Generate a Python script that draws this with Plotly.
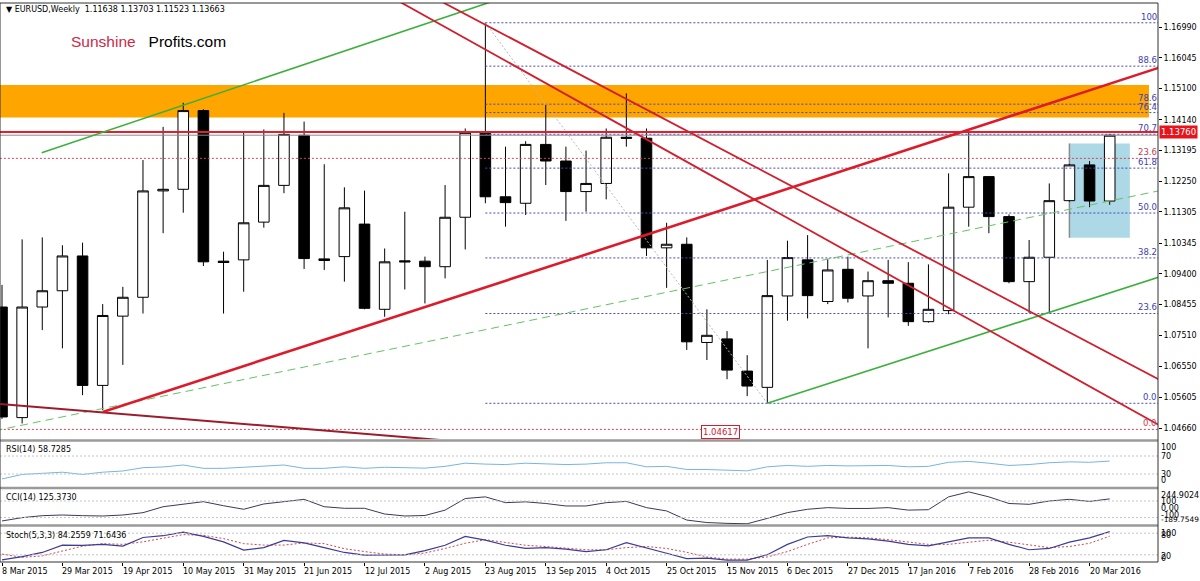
import plotly.graph_objects as go

# ---------------- data (weekly EURUSD) ----------------
OPEN = [1.0838, 1.0498, 1.0838, 1.0888, 1.0995, 1.0597, 1.0810, 1.0868, 1.1195, 1.1200,
        1.1442, 1.0979, 1.0983, 1.1099, 1.1212, 1.1366, 1.0986, 1.0993, 1.1093, 1.0831,
        1.0980, 1.0979, 1.0962, 1.1114, 1.1374, 1.1177, 1.1157, 1.1338, 1.1287, 1.1193,
        1.1218, 1.1360, 1.1357, 1.1020, 1.1031, 1.0729, 1.0740, 1.0641, 1.0591, 1.0872,
        1.0983, 1.0855, 1.0954, 1.0872, 1.0919, 1.0911, 1.0793, 1.0827, 1.1145, 1.1239,
        1.1116, 1.0916, 1.0991, 1.1165, 1.1275, 1.11638]
HIGH = [1.0906, 1.1046, 1.1052, 1.1028, 1.1036, 1.0847, 1.0900, 1.1290, 1.1392, 1.1466,
        1.1446, 1.1008, 1.1379, 1.1384, 1.1435, 1.1408, 1.1277, 1.1206, 1.1196, 1.1018,
        1.1131, 1.0993, 1.1213, 1.1387, 1.1712, 1.1331, 1.1348, 1.1459, 1.1331, 1.1319,
        1.1387, 1.1495, 1.1387, 1.1097, 1.1052, 1.0831, 1.0764, 1.0690, 1.0983, 1.1042,
        1.1059, 1.0985, 1.0993, 1.0947, 1.0983, 1.0976, 1.0969, 1.1249, 1.1377, 1.1241,
        1.1123, 1.1044, 1.1218, 1.1278, 1.1287, 1.13703]
LOW = [1.0494, 1.0480, 1.0767, 1.0711, 1.0567, 1.0521, 1.0660, 1.0818, 1.1065, 1.1128,
       1.0964, 1.0818, 1.0885, 1.1082, 1.1188, 1.0955, 1.0952, 1.0916, 1.0831, 1.0808,
       1.0892, 1.0849, 1.0926, 1.1015, 1.1157, 1.1085, 1.1121, 1.1213, 1.1103, 1.1131,
       1.1169, 1.1331, 1.0995, 1.0897, 1.0706, 1.0675, 1.0616, 1.0564, 1.0542, 1.0796,
       1.0803, 1.0847, 1.0852, 1.0711, 1.0806, 1.0780, 1.0790, 1.0816, 1.1085, 1.1065,
       1.0911, 1.0820, 1.0820, 1.1162, 1.1145, 1.11523]
CLOSE = [1.0500, 1.0838, 1.0888, 1.0995, 1.0597, 1.0812, 1.0868, 1.1195, 1.1200, 1.1442,
         1.0977, 1.0975, 1.1097, 1.1212, 1.1369, 1.0987, 1.0981, 1.1143, 1.0834, 1.0977,
         1.0977, 1.0962, 1.1114, 1.1374, 1.1177, 1.1159, 1.1338, 1.1287, 1.1193, 1.1218,
         1.1360, 1.1357, 1.1020, 1.1031, 1.0731, 1.0751, 1.0644, 1.0595, 1.0873, 1.0990,
         1.0873, 1.0952, 1.0865, 1.0919, 1.0911, 1.0793, 1.0831, 1.1145, 1.1239, 1.1116,
         1.0916, 1.0991, 1.1165, 1.1275, 1.1164, 1.13663]

RSI = [19, 29, 31.5, 34, 29, 34, 36.7, 44, 45.6, 50, 42.6, 42.6, 45, 47, 50, 42.6, 42.6, 46,
       42.6, 45, 44, 43, 47, 54, 52, 51, 54, 53, 51, 52, 55, 55, 46, 47, 40, 40, 38, 37,
       46, 49, 47, 49, 48, 49, 49, 46, 47, 56, 58, 54, 49, 51, 55, 57, 56, 58.7285]
CCI = [-141, -101, -77, -69, -77, -81, -69, -41, 31, 60, 92, 43, 0, 64, 92, 120, 31, 12,
       12, -57, -81, -75, -10, 130, 150, 80, 90, 70, 40, 40, 80, 95, 20, -20, -130, -160,
       -170, -175, -110, -40, 0, 20, 10, 10, 20, -10, -5, 150, 210, 150, 70, 60, 100, 120,
       95, 125.3730]
STOCH_K = [6, 15, 26.5, 47, 46, 49, 44, 68, 73, 83, 71, 56, 33, 40, 60, 53, 40, 26.5, 19,
           20, 20, 31.5, 46.5, 71, 60.6, 46.5, 37.6, 40, 36, 29, 34, 53.5, 40, 24.4, 9.4,
           11, 5, 5, 20, 49, 69.4, 73, 67, 64, 58, 49, 44.7, 55, 67, 67, 49, 34, 37.6, 55,
           67, 84.2559]
STOCH_D = [22, 13, 17, 31, 44, 51, 49, 56, 67, 76, 74, 65, 51, 47, 47, 53, 51, 37, 29, 22,
           20, 25, 37.6, 52, 62, 55, 46.5, 43, 37.6, 34, 34, 40, 43, 37.6, 27, 14, 8, 8, 14,
           29, 49, 67, 69, 67, 62, 55, 49, 49, 55, 60.6, 55, 46.5, 40, 43, 52, 71.6436]

WEEK_LABELS = ["8 Mar 2015", "29 Mar 2015", "19 Apr 2015", "10 May 2015", "31 May 2015",
               "21 Jun 2015", "12 Jul 2015", "2 Aug 2015", "23 Aug 2015", "13 Sep 2015",
               "4 Oct 2015", "25 Oct 2015", "15 Nov 2015", "6 Dec 2015", "27 Dec 2015",
               "17 Jan 2016", "7 Feb 2016", "28 Feb 2016", "20 Mar 2016"]
LABEL_STEP = 3
PRICE_TICKS = [1.04660, 1.05605, 1.06550, 1.07510, 1.08455, 1.09400, 1.10345, 1.11305,
               1.12250, 1.13195, 1.14140, 1.15100, 1.16045, 1.16990]

# drawn objects (week index, price)
RESIST_LINE = 1.13760
ZONE = (1.1421, 1.1521)
ZONE_X = (-1.0, 56.95)
BOX_X = (53.0, 56.0)
BOX_Y = (1.1051, 1.1341)
FIB_HI_IDX, FIB_LO_IDX = 24, 38
FIB_LEVELS = [0.0, 23.6, 38.2, 50.0, 61.8, 70.7, 76.4, 78.6, 88.6, 100.0]
RED_FIB_LOW, RED_FIB_HIGH = 1.04617, 1.39930
RED_FIB_LEVELS = [0.0, 23.6]
RED_UP = ([5.0, 57.6], [1.0515, 1.1577])
DESC_A = ([18.0, 58.0], [1.1837, 1.04558])
DESC_B = ([21.0, 58.0], [1.18039, 1.05970])
MAROON = ([-2.0, 22.0], [1.05493, 1.04279])
GREEN_1 = ([1.97, 26.0], [1.13125, 1.1812])
GREEN_2 = ([38.0, 58.0], [1.0542, 1.09414])
GREEN_DASH = ([-1.0, 58.0], [1.04492, 1.12024])
LOW_LABEL = "1.04617"

# ---------------- geometry ----------------
W, H = 1200, 581
ML, MR, MT, MB = 0, 42, 3, 19
PLOT_BOTTOM = H - MB
PH = H - MT - MB
SPACING = 20.14
XR = [-2 / SPACING, (W - MR - ML - 2) / SPACING]


def py(p):
    return (PLOT_BOTTOM - p) / PH


def dom(top, bot):
    return [py(bot), py(top)]


FONT = "DejaVu Sans"
fig = go.Figure()

weeks = list(range(len(OPEN)))
fig.add_trace(go.Candlestick(
    x=weeks, open=OPEN, high=HIGH, low=LOW, close=CLOSE,
    increasing=dict(fillcolor="white", line=dict(color="black", width=1)),
    decreasing=dict(fillcolor="black", line=dict(color="black", width=1)),
    whiskerwidth=0, showlegend=False, hoverinfo="skip", xaxis="x", yaxis="y"))


def line(xs, ys, color, width, dash="solid", yaxis="y"):
    fig.add_trace(go.Scatter(x=xs, y=ys, mode="lines", showlegend=False, hoverinfo="skip",
                             line=dict(color=color, width=width, dash=dash),
                             xaxis="x", yaxis=yaxis))


# fib retracement (blue)
fhi, flo = HIGH[FIB_HI_IDX], LOW[FIB_LO_IDX]
annotations = []
for lv in FIB_LEVELS:
    p = flo + (fhi - flo) * lv / 100
    line([FIB_HI_IDX, XR[1] + 1], [p, p], "#4a4ab0", 1, "2px,2px")
    annotations.append(dict(x=1, xref="paper", xanchor="right", y=p, yref="y",
                            yanchor="bottom", text=f"{lv:.1f}" if lv < 100 else "100",
                            showarrow=False, font=dict(family=FONT, size=8.5, color="#4040b0"),
                            borderpad=0))
line([FIB_HI_IDX, FIB_LO_IDX], [fhi, flo], "#b8b8b8", 1, "2px,2px")
# red fib
for lv in RED_FIB_LEVELS:
    p = RED_FIB_LOW + (RED_FIB_HIGH - RED_FIB_LOW) * lv / 100
    line([XR[0] - 1, XR[1] + 1], [p, p], "#d04858", 1, "2px,2px")
    annotations.append(dict(x=1, xref="paper", xanchor="right", y=p, yref="y",
                            yanchor="bottom", text=f"{lv:.1f}", showarrow=False,
                            font=dict(family=FONT, size=8.5, color="#c84050"), borderpad=0))

# horizontals
line([XR[0] - 1, XR[1] + 1], [CLOSE[-1], CLOSE[-1]], "#8a8a9a", 1)
line([XR[0] - 1, XR[1] + 1], [RESIST_LINE, RESIST_LINE], "#e41e2a", 2)

# trend lines
line(*GREEN_DASH, "#66c266", 1, "8px,5px")
line(*GREEN_1, "#3cb03c", 1.6)
line(*GREEN_2, "#3cb03c", 1.6)
line(*MAROON, "#9c1c2c", 2)
line(*DESC_A, "#d0202e", 1.8)
line(*DESC_B, "#d0202e", 1.8)
line(*RED_UP, "#dc1c2a", 2.6)

# indicators
line(weeks, RSI, "#78b4e0", 1, yaxis="y2")
line(weeks, CCI, "#3a3a58", 1, yaxis="y3")
line(weeks, STOCH_D, "#d04a4a", 1, "2px,2px", yaxis="y4")
line(weeks, STOCH_K, "#3c3c96", 1.2, yaxis="y4")

shapes = [
    dict(type="rect", xref="x", yref="y", x0=ZONE_X[0], x1=ZONE_X[1], y0=ZONE[0], y1=ZONE[1],
         fillcolor="#ffa500", line=dict(width=0), layer="below"),
    dict(type="rect", xref="x", yref="y", x0=BOX_X[0], x1=BOX_X[1], y0=BOX_Y[0], y1=BOX_Y[1],
         fillcolor="#add8e6", line=dict(width=0), layer="below"),
    dict(type="line", xref="x", yref="y", x0=BOX_X[0], x1=BOX_X[0], y0=BOX_Y[0], y1=BOX_Y[1],
         line=dict(color="#8c8c8c", width=1.5), layer="below"),
]
# indicator level lines
for yref, lvls in (("y2", [70, 30]), ("y3", [100, -100]), ("y4", [80, 20])):
    for v in lvls:
        shapes.append(dict(type="line", xref="paper", yref=yref, x0=0, x1=1, y0=v, y1=v,
                           line=dict(color="#c4c4c4", width=1, dash="2px,2px")))
# separators and frame
for p in (440.5, 488, 525.5):
    shapes.append(dict(type="line", xref="paper", yref="paper", x0=0, x1=1, y0=py(p), y1=py(p),
                       line=dict(color="#9a9a9a", width=2.5)))
shapes.append(dict(type="rect", xref="paper", yref="paper", x0=0, x1=1, y0=0, y1=1,
                   line=dict(color="#303030", width=1)))

# texts
small = dict(family=FONT, size=8, color="black")
annotations += [
    dict(x=0, xref="paper", xshift=4, y=py(10), yref="paper", xanchor="left", yanchor="middle",
         text="▼ EURUSD,Weekly  1.11638 1.13703 1.11523 1.13663", showarrow=False, font=small),
    dict(x=0, xref="paper", xshift=69, y=py(41), yref="paper", xanchor="left", yanchor="middle",
         text="<span style='color:#cc2848'>Sunshine</span>   Profits.com", showarrow=False,
         font=dict(family="Liberation Sans", size=15.5, color="black")),
    dict(x=0, xref="paper", xshift=4, y=py(449), yref="paper", xanchor="left", yanchor="middle",
         text="RSI(14) 58.7285", showarrow=False, font=small),
    dict(x=0, xref="paper", xshift=4, y=py(497), yref="paper", xanchor="left", yanchor="middle",
         text="CCI(14) 125.3730", showarrow=False, font=small),
    dict(x=0, xref="paper", xshift=4, y=py(535), yref="paper", xanchor="left", yanchor="middle",
         text="Stoch(5,3,3) 84.2559 71.6436", showarrow=False, font=small),
    dict(x=1, xref="paper", xshift=1, y=RESIST_LINE, yref="y", xanchor="left", yanchor="middle",
         text=f"{RESIST_LINE:.5f}", showarrow=False, bgcolor="#e8141c", borderpad=1,
         font=dict(family=FONT, size=8.5, color="white")),
    dict(x=34.7, xref="x", y=py(432), yref="paper", xanchor="left", yanchor="middle",
         text=LOW_LABEL, showarrow=False, bgcolor="white", bordercolor="#d02030", borderwidth=1,
         borderpad=1, font=dict(family=FONT, size=8.5, color="#d02030")),
]
AXIS_NOTES = (("100", 447, 8), ("70", 456, 8), ("30", 474, 8), ("0", 480, 8),
              ("244.9024", 495, 8), ("100", 501.5, 8), ("0.00", 508, 8), ("-100", 515.5, 8),
              ("-189.7549", 519, 7.4), ("100", 533.5, 8), ("80", 535.5, 8), ("20", 556, 8),
              ("0", 558, 8))
for txt, p, fs in AXIS_NOTES:
    annotations.append(dict(x=1, xref="paper", xshift=1, y=py(p), yref="paper",
                            xanchor="left", yanchor="middle", text=txt, showarrow=False,
                            font=dict(family=FONT, size=fs, color="black")))
for i, lab in enumerate(WEEK_LABELS):
    annotations.append(dict(x=i * LABEL_STEP, xref="x", xshift=-2, y=py(572), yref="paper",
                            xanchor="left", yanchor="middle", text=lab, showarrow=False,
                            font=small))

fig.update_layout(
    width=W, height=H, margin=dict(l=ML, r=MR, t=MT, b=MB),
    paper_bgcolor="white", plot_bgcolor="white", showlegend=False, boxgap=0.25,
    xaxis=dict(range=XR, anchor="y4", showgrid=False, zeroline=False, showline=False,
               tickvals=[i * LABEL_STEP for i in range(len(WEEK_LABELS))],
               showticklabels=False, ticks="outside", ticklen=3, tickcolor="black",
               rangeslider=dict(visible=False)),
    yaxis=dict(domain=dom(MT, 439), range=[1.04322, 1.16990 + (27 - MT) * 0.0003075],
               side="right", anchor="x", showgrid=False, zeroline=False,
               tickvals=PRICE_TICKS, ticktext=[f"{v:.5f}" for v in PRICE_TICKS],
               ticks="outside", ticklen=3, tickcolor="black",
               tickfont=dict(family=FONT, size=8, color="black")),
    yaxis2=dict(domain=dom(442.5, 487.5), range=[0, 100], anchor="x", showgrid=False,
                zeroline=False, showticklabels=False),
    yaxis3=dict(domain=dom(489, 525), range=[-189.7549, 244.9024], anchor="x", showgrid=False,
                zeroline=False, showticklabels=False),
    yaxis4=dict(domain=dom(526, PLOT_BOTTOM), range=[0, 100], anchor="x", showgrid=False,
                zeroline=False, showticklabels=False),
    shapes=shapes, annotations=annotations,
)

fig.write_html("out.html", config={"displayModeBar": False},
               post_script="document.body.style.margin='0';")
